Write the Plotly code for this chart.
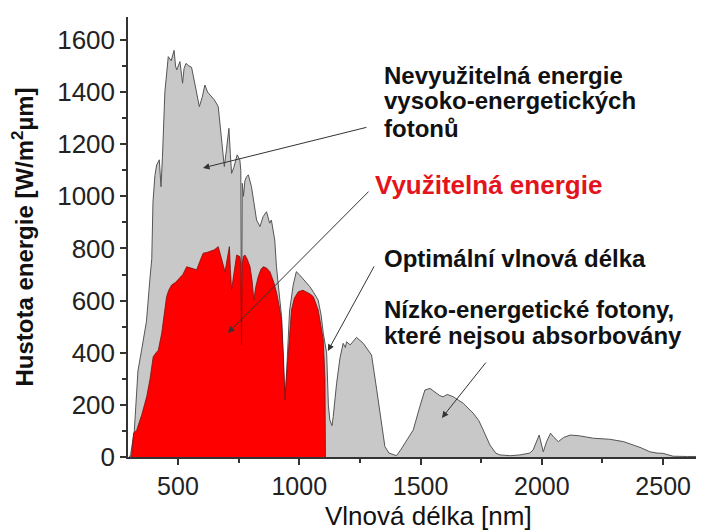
import plotly.graph_objects as go

# Solar spectrum (gray): wavelength [nm] vs. W/m2um
sun_nm = [300, 305, 320, 335, 350, 370, 385, 392, 397, 405, 412, 423, 430, 436, 446, 460,
          472, 484, 490, 495, 508, 519, 525, 533, 545, 556, 570, 588, 600, 611, 622, 632,
          650, 666, 672, 680, 686, 691, 700, 710, 716, 721, 730, 744, 755, 759, 762, 765,
          770, 776, 783, 790, 803, 814, 824, 838, 851, 865, 878, 885, 899, 906, 915, 927,
          935, 941, 948, 960, 975, 988, 1000, 1020, 1044, 1060, 1078, 1090, 1099, 1113, 1120,
          1126, 1135, 1140, 1154, 1168, 1181, 1190, 1195, 1210, 1236, 1264, 1291, 1298, 1319,
          1340, 1353, 1370, 1401, 1420, 1442, 1470, 1497, 1518, 1539, 1552, 1566, 1580, 1593,
          1610, 1635, 1676, 1717, 1740, 1758, 1786, 1810, 1827, 1870, 1910, 1950, 1964, 1989,
          2000, 2006, 2020, 2036, 2050, 2068, 2090, 2116, 2150, 2212, 2280, 2336, 2377, 2410,
          2445, 2475, 2500, 2541, 2600, 2650]
sun_w = [0, 10, 100, 330, 410, 520, 690, 760, 980, 1080, 1120, 1140, 1037, 1150, 1400, 1536,
         1520, 1560, 1500, 1485, 1517, 1434, 1490, 1510, 1500, 1495, 1430, 1344, 1380, 1427, 1400, 1389,
         1370, 1344, 1290, 1216, 1150, 1114, 1180, 1261, 1160, 1088, 1110, 1159, 1140, 1100, 430, 1050,
         1000, 1060, 1076, 1082, 1037, 960, 909, 884, 922, 941, 897, 909, 832, 730, 650, 538,
         350, 219, 330, 560, 660, 711, 700, 680, 653, 630, 602, 545, 475, 398, 200,
         142, 120, 155, 283, 380, 436, 420, 442, 430, 459, 436, 398, 391, 260,
         120, 40, 15, 5, 30, 65, 104, 193, 257, 263, 255, 244, 235, 231,
         240, 231, 206, 168, 140, 104, 46, 15, 8, 5, 8, 15, 27, 84,
         40, 20, 60, 91, 75, 59, 75, 84, 82, 72, 68, 59, 46, 35,
         20, 15, 14, 3, 2, 2]

# Usable part (red)
use_nm = [305, 309, 317, 330, 350, 371, 385, 398, 410, 419, 433, 445, 453, 462, 474, 490,
          508, 520, 536, 555, 577, 590, 604, 620, 632, 650, 666, 680, 694, 703, 712, 716,
          721, 730, 742, 755, 759, 762, 765, 770, 776, 785, 797, 805, 813, 820, 831, 842,
          852, 865, 879, 895, 907, 917, 927, 935, 941, 950, 968, 980, 996, 1015, 1030, 1045,
          1058, 1078, 1090, 1099, 1106, 1108]
use_w = [0, 8, 91, 104, 160, 231, 300, 385, 400, 410, 475, 560, 615, 640, 660, 670,
         686, 700, 730, 725, 718, 750, 782, 785, 788, 795, 807, 760, 711, 760, 807, 720,
         641, 700, 775, 769, 740, 430, 740, 770, 775, 760, 730, 680, 602, 650, 692, 720,
         730, 725, 711, 670, 628, 580, 526, 380, 219, 340, 564, 610, 634, 640, 634, 625,
         615, 564, 500, 449, 300, 0]

x_ticks = [500, 1000, 1500, 2000, 2500]
y_ticks = [0, 200, 400, 600, 800, 1000, 1200, 1400, 1600]

FONT = "Liberation Sans, Arial, sans-serif"
AX = "#333333"

fig = go.Figure()
fig.add_trace(go.Scatter(
    x=sun_nm, y=sun_w, mode="lines", fill="tozeroy",
    fillcolor="#c8c8c8", line=dict(color="#555555", width=1), showlegend=False
))
fig.add_trace(go.Scatter(
    x=use_nm, y=use_w, mode="lines", fill="tozeroy",
    fillcolor="#ff0000", line=dict(color="#7a1010", width=0.8), showlegend=False
))

# text labels: (text, x, y, colour, size)
labels = [
    ("Nevyužitelná energie", 1341, 1465, "#111111", 24),
    ("vysoko-energetických", 1341, 1366, "#111111", 24),
    ("fotonů", 1341, 1262, "#111111", 24),
    ("Využitelná energie", 1304, 1043, "#e3141c", 26),
    ("Optimální vlnová délka", 1341, 763, "#111111", 24),
    ("Nízko-energetické fotony,", 1341, 564, "#111111", 24),
    ("které nejsou absorbovány", 1341, 468, "#111111", 24),
]
for txt, lx, ly, col, sz in labels:
    fig.add_annotation(x=lx, y=ly, text=txt, showarrow=False, xanchor="left", yanchor="middle",
                       font=dict(family=FONT, size=sz, color=col, weight="bold"))

# arrows: (tail x, tail y, head x, head y)
arrows = [
    (1283, 1266, 603, 1109),
    (1292, 1024, 706, 476),
    (1312, 737, 1118, 407),
    (1774, 368, 1588, 150),
]
for tx, ty, hx, hy in arrows:
    fig.add_annotation(x=hx, y=hy, ax=tx, ay=ty, axref="x", ayref="y", text="",
                       showarrow=True, arrowhead=2, arrowsize=1.3, arrowwidth=1,
                       arrowcolor="#333333")

# x axis title as a paper annotation so it sits just inside the bottom edge
fig.add_annotation(xref="paper", yref="paper", x=0.525, y=-0.133, text="Vlnová délka [nm]",
                   showarrow=False, xanchor="center", yanchor="middle",
                   font=dict(family=FONT, size=26, color="#111111"))

# page body has an 8px margin, so the margins are offset by that
fig.update_layout(
    width=704, height=530,
    margin=dict(l=120, r=12, t=9, b=81),
    paper_bgcolor="white", plot_bgcolor="white",
    font=dict(family=FONT, color="#222222"),
)
fig.update_xaxes(
    range=[294, 2652], tickvals=x_ticks, ticks="outside", ticklen=6, tickwidth=1.5,
    tickcolor=AX, showline=True, linecolor=AX, linewidth=1.5, showgrid=False, zeroline=False,
    tickfont=dict(size=25, color="#222222"),
    minor=dict(dtick=250, tick0=0, ticks="outside", ticklen=4, tickcolor=AX, showgrid=False),
)
fig.update_yaxes(
    range=[0, 1688], tickvals=y_ticks, ticks="outside", ticklen=6, tickwidth=1.5,
    tickcolor=AX, showline=True, linecolor=AX, linewidth=1.5, showgrid=False, zeroline=False,
    tickfont=dict(size=26, color="#222222"),
    minor=dict(dtick=100, tick0=0, ticks="outside", ticklen=4, tickcolor=AX, showgrid=False),
    title=dict(text="<b>Hustota energie [W/m<sup>2</sup>µm]</b>", font=dict(size=24, color="#111111"),
               standoff=18),
)

fig.write_html("out.html")
